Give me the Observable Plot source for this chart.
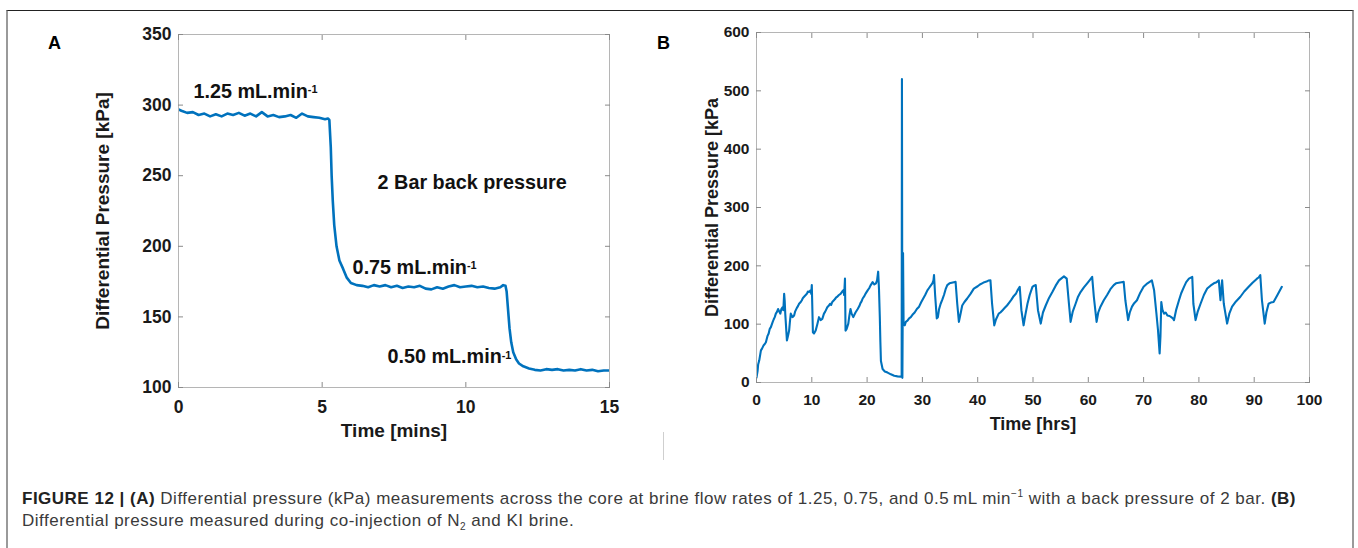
<!DOCTYPE html>
<html><head><meta charset="utf-8">
<script src="https://cdn.jsdelivr.net/npm/d3@7"></script>
<script src="https://cdn.jsdelivr.net/npm/@observablehq/plot@0.6"></script>
<style>
html,body{margin:0;padding:0;background:#fff;}
body{width:1358px;height:548px;overflow:hidden;position:relative;font-family:"Liberation Sans",Arial,sans-serif;}
#outer{position:absolute;left:6px;top:10px;width:1348px;height:600px;border-top:1px solid #222;border-left:2px solid #9a9a9a;border-right:2px solid #9a9a9a;box-sizing:border-box;}
.plabel{position:absolute;font-weight:bold;font-size:18px;color:#000;line-height:18px;}
#vline{position:absolute;left:663px;top:432px;width:1px;height:28px;background:#cfcfcf;}
.cap{position:absolute;left:22px;font-size:17px;color:#3a3a3a;white-space:nowrap;line-height:20px;}
.cap b{color:#222;}
.cap sup{font-size:10px;position:relative;top:-7px;vertical-align:baseline;line-height:0;}
.cap sub{font-size:10px;vertical-align:baseline;position:relative;top:4px;line-height:0;}
#chartA,#chartB{position:absolute;top:0;}
</style></head><body>
<div id="outer"></div>
<div id="chartA" style="left:0"></div>
<div id="chartB" style="left:680px"></div>
<div class="plabel" style="left:48px;top:34px">A</div>
<div class="plabel" style="left:657px;top:34px">B</div>
<div id="vline"></div>
<div class="cap" id="cap1" style="top:489px"><b>FIGURE 12 | (A)</b> Differential pressure (kPa) measurements across the core at brine flow rates of 1.25, 0.75, and 0.5&#8201;mL min<sup>−1</sup> with a back pressure of 2 bar. <b>(B)</b></div>
<div class="cap" id="cap2" style="top:511px">Differential pressure measured during co-injection of N<sub>2</sub> and KI brine.</div>
<script>
// ---------- Panel A data ----------
const timeA = [0,0.1,0.3,0.5,0.7,0.9,1.1,1.3,1.5,1.7,1.9,2.1,2.3,2.5,2.7,2.9,3.1,3.3,3.5,3.7,3.9,4.1,4.3,4.5,4.7,4.9,5.1,5.2,5.25,
  5.3,5.33,5.37,5.42,5.5,5.6,5.73,5.85,6.0,6.2,
  6.4,6.6,6.8,7.0,7.2,7.4,7.6,7.8,8.0,8.2,8.4,8.6,8.8,9.0,9.2,9.4,9.6,9.8,10.0,10.2,10.4,10.6,10.8,11.0,11.2,11.3,11.38,
  11.42,11.47,11.52,11.58,11.65,11.75,11.85,12.0,12.2,12.4,12.6,12.8,13.0,13.2,13.4,13.6,13.8,14.0,14.2,14.4,14.6,14.8,15.0];
const pressureA = [297,296,294.5,295,293,294,292,293.5,292,294,293,294.5,292.5,294,292,295,292,293,291.5,292,293,291,294,292,291.5,291,290,290.5,289.5,
  270,250,232,215,200,190,184,178,174,172.5,
  172,171,172.5,171.5,172.5,171,172,170.5,171.5,171,172,170,169.5,171,170,171.5,172.5,171,171.5,172,171,171.5,170.5,170,171,172.5,172,
  168,155,142,132,125,120,117,115,113.5,112.5,112,113,112.5,113,112,112.5,112,113,112,112.5,111.5,112,112];
const xTicksA = [0,5,10,15];
const yTicksA = [100,150,200,250,300,350];
const annoTextA = ["1.25 mL.min","2 Bar back pressure","0.75 mL.min","0.50 mL.min"];
const annoXA = [0.52,6.93,6.06,7.27];
const annoYA = [309.8,245.4,185.2,121.5];

// ---------- Panel B data ----------
const timeB = [0,0.2,0.3,0.5,0.8,1.0,1.3,1.5,1.7,2.0,2.2,2.4,2.6,2.9,3.1,3.3,3.5,3.7,3.9,4.1,4.3,4.5,4.7,4.85,5.0,5.1,5.2,5.5,5.7,5.9,6.05,6.2,6.5,6.8,7.0,7.3,7.5,7.7,8.0,8.2,8.4,8.6,8.9,9.1,9.3,9.5,9.8,9.9,10.0,10.2,10.4,10.7,11.0,11.3,11.6,11.9,12.2,12.4,12.6,12.8,13.1,13.3,13.5,13.7,14.0,14.2,14.4,14.6,14.9,15.2,15.5,15.7,15.85,16.0,16.1,16.3,16.6,16.8,17.0,17.2,17.5,17.9,18.3,18.6,18.8,19.0,19.2,19.5,19.7,19.9,20.1,20.4,20.6,20.8,21.0,21.3,21.6,21.8,22.0,22.15,22.3,22.4,22.5,22.8,23.2,23.7,24.3,24.9,25.5,26.1,26.25,26.3,26.38,26.5,
  26.6,26.8,27.0,27.3,27.6,27.9,28.2,28.6,29.0,29.4,29.8,30.2,30.5,30.9,31.2,31.5,31.8,32.0,32.1,32.3,32.6,32.8,33.0,33.3,33.6,33.9,34.2,34.5,34.9,35.3,35.7,36.0,36.3,36.6,36.9,37.2,37.6,38.1,38.7,39.3,40.0,40.4,40.8,41.2,41.6,42.0,42.3,42.6,43.0,43.3,43.8,44.1,44.5,44.9,45.3,45.7,46.1,46.5,46.9,47.2,47.6,47.9,48.3,48.6,49.0,49.4,49.9,50.2,50.5,50.9,51.4,51.8,52.3,52.9,53.5,54.1,54.7,55.2,55.6,56.1,56.5,56.8,57.2,57.7,58.1,58.6,59.2,59.8,60.3,60.7,61.0,61.5,61.8,62.2,62.8,63.4,64.0,64.6,65.0,65.5,66.0,66.4,66.7,67.2,67.5,67.9,68.3,68.8,69.4,70.0,70.7,71.5,71.9,72.3,72.6,72.9,73.05,73.2,73.4,73.7,74.0,74.3,74.7,75.0,75.3,75.5,75.9,76.4,76.8,77.3,77.7,78.2,78.8,79.0,79.4,79.8,80.3,80.9,81.5,82.1,82.7,83.2,83.6,83.9,84.2,84.5,84.8,85.1,85.5,86.0,86.7,87.5,88.2,89.0,89.7,90.5,90.8,91.1,91.4,91.9,92.2,92.6,93.0,93.5,94.2,95.0];
const pressureB = [8.6,20,31,38,55,58,64,66,69,80,84,92,95,103,108,112,118,121,126,122,118,126,129,124,152,140,118,72,80,89,105,118,112,115,122,128,131,135,138,141,145,147,150,152,156,155,158,152,167,86,84,89,100,112,107,109,118,121,125,129,132,135,133,138,141,143,146,147,150,152,156,158,150,178,89,92,101,115,126,118,112,120,126,131,136,139,144,148,152,155,158,162,166,169,172,168,170,175,190,160,112,70,37,23,19,17,14,11.5,10.5,10,11,520,8,222,
  100,98,104,106,110,112,116,120,126,130,138,145,150,158,162,166,170,175,184,150,110,112,125,135,142,150,160,167,170,171,172,172.5,135,104,118,132,138,144,152,161,165,168,170,172,173,175,175.4,135,98,108,118,120,124,128,132,137,142,148,152,158,164,124,98,115,135,150,164,166,167,124,101,120,132,145,155,166,175,179,182,178,135,104,122,135,146,155,163,170,176,181,147,104,120,130,141,150,160,167,170,171,172,172.5,141,107,120,130,136,141,154,164,170,175,158,120,90,50,80,138,125,118,120,115,114,112,110,107,125,141,153,164,172,178,181,135,107,122,135,150,161,166,170,172,175,141,175,135,118,101,118,130,139,147,156,164,171,178,180,184,141,101,120,135,137,138,150,164];
const xTicksB = [0,10,20,30,40,50,60,70,80,90,100];
const yTicksB = [0,100,200,300,400,500,600];

const BLUE = "#0072BD";
const FONT = "Liberation Sans, Arial, Helvetica, sans-serif";
const TICKC = "#8a8a8a";

function boxAxes(xt, yt, o) {
  const none = () => "";
  return [
    Plot.frame({stroke: "#b5b5b5"}),
    Plot.axisX(xt, {anchor: "bottom", tickSize: -o.tick, stroke: TICKC, tickFormat: none, label: null}),
    Plot.axisX(xt, {anchor: "top", tickSize: -o.tick, stroke: TICKC, tickFormat: none, label: null}),
    Plot.axisY(yt, {anchor: "left", tickSize: -o.tick, stroke: TICKC, tickFormat: none, label: null}),
    Plot.axisY(yt, {anchor: "right", tickSize: -o.tick, stroke: TICKC, tickFormat: none, label: null}),
    Plot.axisX(xt, {anchor: "bottom", tickSize: 0, tickPadding: o.xPad, fontSize: o.tickFont, fontWeight: "bold", fill: "#1a1a1a", label: null}),
    Plot.axisY(yt, {anchor: "left", tickSize: 0, tickPadding: o.yPad, fontSize: o.tickFont, fontWeight: "bold", fill: "#1a1a1a", label: null}),
    Plot.axisX(xt, {anchor: "bottom", tickSize: 0, tickFormat: none, label: o.xLabel, labelAnchor: "center", labelArrow: "none", labelOffset: o.xLabOff, fontSize: o.labFont, fontWeight: "bold", fill: "#1a1a1a"}),
    Plot.axisY(yt, {anchor: "left", tickSize: 0, tickFormat: none, label: o.yLabel, labelAnchor: "center", labelArrow: "none", labelOffset: o.yLabOff, fontSize: o.labFont, fontWeight: "bold", fill: "#1a1a1a"})
  ];
}

const dataA = timeA.map((t, i) => ({t, p: pressureA[i]}));
const plotA = Plot.plot({
  width: 680, height: 450,
  marginLeft: 178, marginRight: 71, marginTop: 34, marginBottom: 63,
  style: {fontFamily: FONT, background: "transparent", overflow: "visible"},
  x: {domain: [0, 15]},
  y: {domain: [100, 350]},
  marks: [
    Plot.line(dataA, {x: "t", y: "p", stroke: BLUE, strokeWidth: 2.6, clip: true}),
    ...boxAxes(xTicksA, yTicksA, {tick: 5, xPad: 13, yPad: 7, tickFont: 17.5, labFont: 19, xLabel: "Time [mins]", yLabel: "Differential Pressure [kPa]", xLabOff: 49, yLabOff: 83}),
    Plot.text(annoTextA, {x: (d, i) => annoXA[i], y: (d, i) => annoYA[i], text: d => d, textAnchor: "start", fontSize: 19.8, fontWeight: "bold", fill: "#111"})
  ]
});
d3.select(plotA).selectAll("text").filter(function() { return /mL\.min$/.test(this.textContent); })
  .append("tspan").attr("dy", "-0.45em").attr("font-size", "0.55em").text("-1");
document.getElementById("chartA").appendChild(plotA);

const dataB = timeB.map((t, i) => ({t, p: pressureB[i]}));
const plotB = Plot.plot({
  width: 678, height: 450,
  marginLeft: 76, marginRight: 49, marginTop: 32, marginBottom: 68,
  style: {fontFamily: FONT, background: "transparent", overflow: "visible"},
  x: {domain: [0, 100]},
  y: {domain: [0, 600]},
  marks: [
    Plot.line(dataB, {x: "t", y: "p", stroke: BLUE, strokeWidth: 2.1, clip: true}),
    ...boxAxes(xTicksB, yTicksB, {tick: 5, xPad: 11, yPad: 7, tickFont: 15.5, labFont: 18, xLabel: "Time [hrs]", yLabel: "Differential Pressure [kPa", xLabOff: 47, yLabOff: 51})
  ]
});
document.getElementById("chartB").appendChild(plotB);

// fit caption line 1 to the reference span (x 22 → 1296)
const cap1 = document.getElementById("cap1"), cap2 = document.getElementById("cap2");
const chars = cap1.textContent.length;
const w = cap1.getBoundingClientRect().width;
const ls = (1274 - w) / chars;
cap1.style.letterSpacing = ls + "px";
cap2.style.letterSpacing = ls + "px";
</script>
</body></html>
